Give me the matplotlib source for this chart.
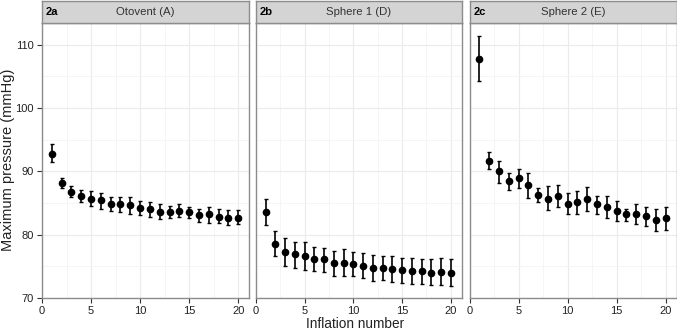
import matplotlib
matplotlib.use("Agg")
import matplotlib.pyplot as plt
import numpy as np

plt.rcParams['font.family'] = ['Liberation Sans', 'DejaVu Sans']

inflation = np.arange(1, 21)

mean_a = [92.7, 88.1, 86.7, 86.1, 85.7, 85.4, 84.9, 84.8, 84.6, 84.2,
          84.0, 83.6, 83.6, 83.8, 83.5, 83.1, 83.2, 82.8, 82.6, 82.7]
hi_a = [94.3, 89.0, 87.7, 87.0, 86.9, 86.6, 85.9, 85.9, 85.9, 85.3,
        85.2, 84.8, 84.5, 84.9, 84.4, 84.1, 84.3, 84.0, 83.9, 83.9]
lo_a = [91.4, 87.3, 85.9, 85.2, 84.5, 84.1, 83.7, 83.5, 83.2, 83.1,
        82.8, 82.4, 82.7, 82.8, 82.6, 82.0, 81.9, 81.8, 81.5, 81.6]

mean_b = [83.6, 78.6, 77.3, 76.9, 76.6, 76.2, 76.1, 75.6, 75.6, 75.3,
          75.1, 74.8, 74.8, 74.6, 74.4, 74.3, 74.3, 74.0, 74.1, 74.0]
hi_b = [85.7, 80.6, 79.4, 78.9, 78.8, 78.1, 77.9, 77.4, 77.7, 77.2,
        77.1, 76.8, 76.6, 76.6, 76.3, 76.3, 76.1, 76.1, 76.3, 76.1]
lo_b = [81.5, 76.6, 75.1, 74.8, 74.4, 74.3, 74.1, 73.5, 73.5, 73.4,
        73.1, 72.7, 72.8, 72.6, 72.3, 72.2, 72.2, 72.0, 72.0, 71.9]

mean_c = [107.7, 91.7, 90.0, 88.5, 88.9, 87.8, 86.3, 85.7, 86.1, 84.9,
          85.2, 85.6, 84.8, 84.4, 83.7, 83.2, 83.3, 83.0, 82.3, 82.6]
hi_c = [111.4, 93.0, 91.7, 89.8, 90.3, 89.8, 87.4, 87.6, 87.9, 86.6,
        86.9, 87.5, 86.1, 86.1, 85.3, 84.1, 84.8, 84.3, 84.0, 84.3]
lo_c = [104.2, 90.3, 88.2, 87.1, 87.3, 85.8, 85.2, 83.9, 84.3, 83.2,
        83.3, 83.7, 83.3, 82.6, 82.2, 82.2, 81.7, 81.4, 80.6, 80.8]

panel_tags = ['2a', '2b', '2c']
panel_titles = ['Otovent (A)', 'Sphere 1 (D)', 'Sphere 2 (E)']
xticks = [0, 5, 10, 15, 20]
yticks = [70, 80, 90, 100, 110]

W, H = 677, 331
fig = plt.figure(figsize=(W / 100, H / 100), dpi=100)

lefts = [42, 256, 469.5]
rights = [249, 461.5, 676.5]
top_px, bot_px = 23, 298
strip_top = 1

data = [(mean_a, lo_a, hi_a), (mean_b, lo_b, hi_b), (mean_c, lo_c, hi_c)]
border = '#8c8c8c'

for i in range(3):
    l, r = lefts[i], rights[i]
    ax = fig.add_axes([l / W, 1 - bot_px / H, (r - l) / W, (bot_px - top_px) / H])
    m, lo, hi = (np.array(v) for v in data[i])
    yerr = np.vstack([m - lo, hi - m])
    ax.errorbar(inflation, m, yerr=yerr, fmt='o', color='black', ms=4.5,
                elinewidth=1.2, capsize=1.2, capthick=1.0, zorder=3)
    ax.set_xlim(0, 21.1)
    ax.set_ylim(70, 113.4)
    ax.set_xticks(xticks)
    ax.set_yticks(yticks)
    ax.set_xticks(np.arange(2.5, 21, 5), minor=True)
    ax.set_yticks(np.arange(75, 113, 10), minor=True)
    ax.grid(True, which='major', color='#ebebeb', lw=0.8)
    ax.grid(True, which='minor', color='#f4f4f4', lw=0.6)
    ax.set_axisbelow(True)
    for s in ax.spines.values():
        s.set_color(border)
        s.set_linewidth(1.0)
    ax.tick_params(which='minor', length=0)
    ax.tick_params(which='major', length=3.5, width=0.8, color='#333333',
                   labelsize=8, labelcolor='#222222', pad=2.5)
    if i == 0:
        ax.set_yticklabels([str(t) for t in yticks])
    else:
        ax.set_yticklabels([])
        ax.tick_params(axis='y', length=0)

    sax = fig.add_axes([l / W, 1 - top_px / H, (r - l) / W, (top_px - strip_top) / H])
    sax.set_facecolor('#d4d4d4')
    sax.set_xticks([])
    sax.set_yticks([])
    for s in sax.spines.values():
        s.set_color(border)
        s.set_linewidth(1.0)
    sax.text(0.5, 0.5, panel_titles[i], ha='center', va='center',
             fontsize=8.2, color='#333333', transform=sax.transAxes)
    sax.text(4 / (r - l), 0.52, panel_tags[i], ha='left', va='center',
             fontsize=8, fontweight='bold', color='black', transform=sax.transAxes)

fig.text(8.5 / W, 1 - 160 / H, 'Maximum pressure (mmHg)', rotation=90,
         ha='center', va='center', fontsize=10.5, color='#222222')
fig.text(355 / W, 1 - 324 / H, 'Inflation number', ha='center', va='center',
         fontsize=9.8, color='#222222')

fig.savefig('out.png', dpi=100)
